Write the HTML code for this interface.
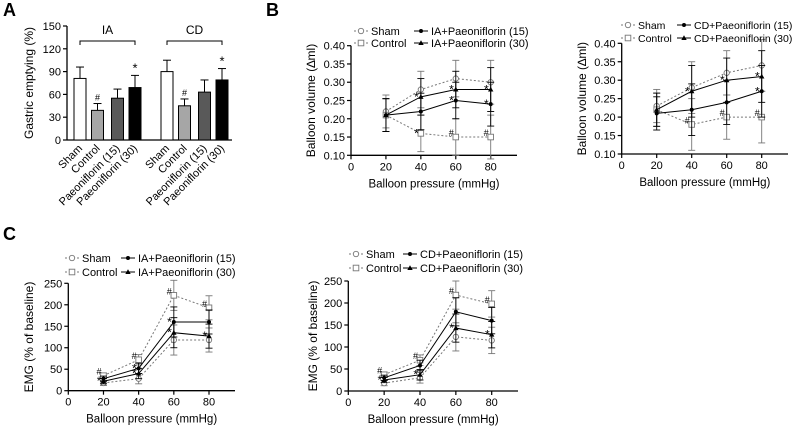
<!DOCTYPE html>
<html><head><meta charset="utf-8">
<style>
html,body{margin:0;padding:0;background:#fff;}
svg{display:block;font-family:"Liberation Sans",Arial,sans-serif;}
</style></head>
<body>
<svg id="fig" width="797" height="426" viewBox="0 0 797 426"></svg>
<script>
// Panel A data
const aGroups = ["Sham","Control","Paeoniflorin (15)","Paeoniflorin (30)"];
const aIA = [81,39,55,69];
const aIAerr = [15,9,12,16];
const aCD = [90,45,63,79];
const aCDerr = [15,9,16,15];
const aTicks = [0,30,60,90,120,150];
// Panel B data
const bX = [20,40,60,80];
const bTicks = [0.10,0.15,0.20,0.25,0.30,0.35,0.40];
const xTicks = [0,20,40,60,80];
const b1Sham = [0.22,0.28,0.31,0.30];
const b1Ctrl = [0.21,0.16,0.15,0.15];
const b1P15 = [0.21,0.22,0.25,0.24];
const b1P30 = [0.21,0.26,0.28,0.28];
const b1Err = [0.045,0.05,0.05,0.06];
const b2Sham = [0.23,0.28,0.32,0.34];
const b2Ctrl = [0.22,0.18,0.20,0.20];
const b2P15 = [0.21,0.22,0.24,0.27];
const b2P30 = [0.22,0.27,0.30,0.31];
const b2Err = [0.045,0.07,0.06,0.07];
// Panel C data
const cTicks = [0,50,100,150,200,250];
const c1Sham = [18,28,118,118];
const c1Ctrl = [35,72,222,193];
const c1P15 = [28,52,160,160];
const c1P30 = [22,40,135,127];
const c1Err = [6,12,35,28];
const c2Sham = [18,30,123,115];
const c2Ctrl = [37,70,218,198];
const c2P15 = [30,58,180,160];
const c2P30 = [25,37,143,128];
const c2Err = [6,12,32,30];

const NS="http://www.w3.org/2000/svg";
const svg=document.getElementById('fig');
function mk(tag,attrs,parent,text){const e=document.createElementNS(NS,tag);for(const k in attrs)e.setAttribute(k,attrs[k]);if(text!==undefined)e.textContent=text;(parent||svg).appendChild(e);return e;}

function panelLetter(t,x,y){
  const e=mk('text',{x:x,y:y,'font-size':18,'font-weight':'bold'},svg,t);
  
  
}
panelLetter('A',3,16);panelLetter('B',266,16);panelLetter('C',3,240);

// ---------- Panel A ----------
(function(){
  const g=mk('g',{});
  
  
  const x0=67,y0=140,yTop=26,ymax=150;
  const ys=v=>y0-(v/ymax)*(y0-yTop);
  mk('line',{x1:x0,y1:yTop,x2:x0,y2:y0,stroke:'#000','stroke-width':1.3},g);
  mk('line',{x1:x0,y1:y0,x2:232,y2:y0,stroke:'#000','stroke-width':1.3},g);
  aTicks.forEach(t=>{
    mk('line',{x1:x0-4,y1:ys(t),x2:x0,y2:ys(t),stroke:'#000','stroke-width':1.2},g);
    const tl=mk('text',{x:x0-6,y:ys(t)+4,'font-size':11,'text-anchor':'end'},g,t);
    
    
  });
  const yt=mk('text',{x:0,y:0,'font-size':12,'text-anchor':'middle',transform:`translate(33,${(y0+yTop)/2}) rotate(-90)`},g,'Gastric emptying (%)');
  
  
  const fills=['#fff','#a6a6a6','#595959','#000'];
  const sets=[{vals:aIA,err:aIAerr,start:74,name:'IA'},{vals:aCD,err:aCDerr,start:161,name:'CD'}];
  const step=[0,17.5,37.5,55];
  const ann=['','#','','*'];
  sets.forEach(s=>{
    s.vals.forEach((v,i)=>{
      const bx=s.start+step[i],bw=12,cx=bx+bw/2;
      mk('line',{x1:cx,y1:ys(v),x2:cx,y2:ys(v+s.err[i]),stroke:'#000','stroke-width':1},g);
      mk('line',{x1:cx-4,y1:ys(v+s.err[i]),x2:cx+4,y2:ys(v+s.err[i]),stroke:'#000','stroke-width':1},g);
      const r=mk('rect',{x:bx,y:ys(v),width:bw,height:y0-ys(v),fill:fills[i],stroke:'#000','stroke-width':1},g);
      
      
      if(ann[i]){mk('text',{x:cx,y:ys(v+s.err[i])-3,'font-size':ann[i]=='*'?13:9,'text-anchor':'middle'},g,ann[i]);}
      const lbl=mk('text',{x:0,y:0,'font-size':11,'text-anchor':'end',transform:`translate(${cx+3},${y0+9}) rotate(-45)`},g,aGroups[i]);
      
      
    });
    const bl=s.start+6,br=s.start+step[3]+6;
    mk('path',{d:`M${bl},45 V41 H${br} V45`,fill:'none',stroke:'#000','stroke-width':1},g);
    const gl=mk('text',{x:(bl+br)/2,y:34,'font-size':12,'text-anchor':'middle'},g,s.name);
    
    
  });
})();

// ---------- Line chart helper ----------
function marker(g,type,x,y){
  if(type==='circle-open')return mk('circle',{cx:x,cy:y,r:2.7,fill:'#fff',stroke:'#777','stroke-width':0.9},g);
  if(type==='square-open')return mk('rect',{x:x-2.8,y:y-2.8,width:5.6,height:5.6,fill:'#fff',stroke:'#777','stroke-width':0.9},g);
  if(type==='dot')return mk('circle',{cx:x,cy:y,r:2,fill:'#000'},g);
  if(type==='tri')return mk('path',{d:`M${x},${y-2.8} L${x+2.7},${y+2} L${x-2.7},${y+2}Z`,fill:'#000'},g);
}
function lineChart(cfg){
  const g=mk('g',{});
  
  
  const xs=v=>cfg.x0+(v-0)*(cfg.x80-cfg.x0)/80;
  const ys=v=>cfg.yb-(v-cfg.ymin)/(cfg.ymax-cfg.ymin)*(cfg.yb-cfg.yt);
  mk('line',{x1:cfg.x0,y1:cfg.yt,x2:cfg.x0,y2:cfg.yb,stroke:'#000','stroke-width':1.3},g);
  mk('line',{x1:cfg.x0,y1:cfg.yb,x2:cfg.xend,y2:cfg.yb,stroke:'#000','stroke-width':1.3},g);
  cfg.yticks.forEach(t=>{
    mk('line',{x1:cfg.x0-4,y1:ys(t),x2:cfg.x0,y2:ys(t),stroke:'#000','stroke-width':1.2},g);
    const tl=mk('text',{x:cfg.x0-6,y:ys(t)+4,'font-size':11,'text-anchor':'end'},g,cfg.fmt(t));
    
    
  });
  xTicks.forEach(t=>{
    mk('line',{x1:xs(t),y1:cfg.yb,x2:xs(t),y2:cfg.yb+4,stroke:'#000','stroke-width':1.2},g);
    const tl=mk('text',{x:xs(t),y:cfg.yb+15,'font-size':11,'text-anchor':'middle'},g,t);
    
    
  });
  const xt=mk('text',{x:(cfg.x0+cfg.xend)/2,y:cfg.yb+32,'font-size':11.5,'text-anchor':'middle'},g,'Balloon pressure (mmHg)');
  
  
  const yt=mk('text',{x:0,y:0,'font-size':12,'text-anchor':'middle',transform:`translate(${cfg.ytx},${(cfg.yt+cfg.yb)/2}) rotate(-90)`},g,cfg.ytitle);
  
  
  cfg.series.forEach(s=>{
    const pts=bX.map((x,i)=>[xs(x),ys(s.vals[i])]);
    bX.forEach((x,i)=>{
      const e=cfg.err[i]*(s.errScale||1);
      const px=xs(x),a=ys(s.vals[i]+e),b=ys(s.vals[i]-e);
      mk('line',{x1:px,y1:a,x2:px,y2:b,stroke:s.col,'stroke-width':0.9},g);
      mk('line',{x1:px-3.5,y1:a,x2:px+3.5,y2:a,stroke:s.col,'stroke-width':0.9},g);
      mk('line',{x1:px-3.5,y1:b,x2:px+3.5,y2:b,stroke:s.col,'stroke-width':0.9},g);
    });
    const pl=mk('polyline',{points:pts.map(p=>p.join(',')).join(' '),fill:'none',stroke:s.col,'stroke-width':1,'stroke-dasharray':s.dash||'none'},g);
    
    
    pts.forEach((p,i)=>{
      const m=marker(g,s.mk,p[0],p[1]);
      
      
      if(s.ann && s.ann[i]){mk('text',{x:p[0]-2,y:p[1]+(s.ann[i]=='*'?4:-1),'font-size':s.ann[i]=='*'?12:9,'text-anchor':'end'},g,s.ann[i]);}
    });
  });
  const L=cfg.leg;
  const items=[[cfg.series[0],L.lx,L.y1],[cfg.series[1],L.lx,L.y2],[cfg.series[2],L.rx,L.y1],[cfg.series[3],L.rx,L.y2]];
  items.forEach(([s,x,y])=>{
    const lg=mk('g',{},g);
    
    
    mk('line',{x1:x-7,y1:y,x2:x+7,y2:y,stroke:s.col,'stroke-width':1,'stroke-dasharray':s.dash||'none'},lg);
    marker(lg,s.mk,x,y);
    mk('text',{x:x+10,y:y+4,'font-size':L.fs||11},lg,s.label);
  });
}
const fmt2=v=>v.toFixed(2);
const fmt0=v=>String(v);
function series(sham,ctrl,p15,p30,pre,ann){
  return [
    {key:'sham',label:'Sham',vals:sham,mk:'circle-open',col:'#777',dash:'2,2'},
    {key:'control',label:'Control',vals:ctrl,mk:'square-open',col:'#777',dash:'2,2',ann:ann.c},
    {key:'p15',label:pre+'+Paeoniflorin (15)',vals:p15,mk:'dot',col:'#000',ann:ann.p15},
    {key:'p30',label:pre+'+Paeoniflorin (30)',vals:p30,mk:'tri',col:'#000',ann:ann.p30}
  ];
}
lineChart({name:'balloon-volume-ia-chart',x0:351,x80:490.7,xend:517,yt:45.7,yb:155.3,ymin:0.10,ymax:0.40,yticks:bTicks,fmt:fmt2,ytx:315,ytitle:'Balloon volume (\u2206ml)',err:b1Err,
  series:series(b1Sham,b1Ctrl,b1P15,b1P30,'IA',{c:['','*','#','#'],p15:['','','*','*'],p30:['','*','*','*']}),
  leg:{lx:361,rx:421,y1:31,y2:43}});
lineChart({name:'balloon-volume-cd-chart',x0:621.7,x80:761.7,xend:788,yt:43.3,yb:154,ymin:0.10,ymax:0.40,yticks:bTicks,fmt:fmt2,ytx:586,ytitle:'Balloon volume (\u2206ml)',err:b2Err,
  series:series(b2Sham,b2Ctrl,b2P15,b2P30,'CD',{c:['','#','#','#'],p15:['','','','*'],p30:['','*','*','*']}),
  leg:{lx:628,rx:684,y1:25,y2:38,fs:10.5}});
lineChart({name:'emg-ia-chart',x0:68.3,x80:209,xend:235,yt:283.3,yb:390.7,ymin:0,ymax:250,yticks:cTicks,fmt:fmt0,ytx:33,ytitle:'EMG (% of baseline)',err:c1Err,
  series:series(c1Sham,c1Ctrl,c1P15,c1P30,'IA',{c:['#','#','#','#'],p15:['','*','*',''],p30:['*','*','*','*']}),
  leg:{lx:72,rx:128,y1:258,y2:272}});
lineChart({name:'emg-cd-chart',x0:348.3,x80:491.7,xend:518,yt:281,yb:391,ymin:0,ymax:250,yticks:cTicks,fmt:fmt0,ytx:317,ytitle:'EMG (% of baseline)',err:c2Err,
  series:series(c2Sham,c2Ctrl,c2P15,c2P30,'CD',{c:['#','#','#','#'],p15:['','','',''],p30:['*','*','*','*']}),
  leg:{lx:356,rx:410,y1:254,y2:268}});
</script>
</body></html>
